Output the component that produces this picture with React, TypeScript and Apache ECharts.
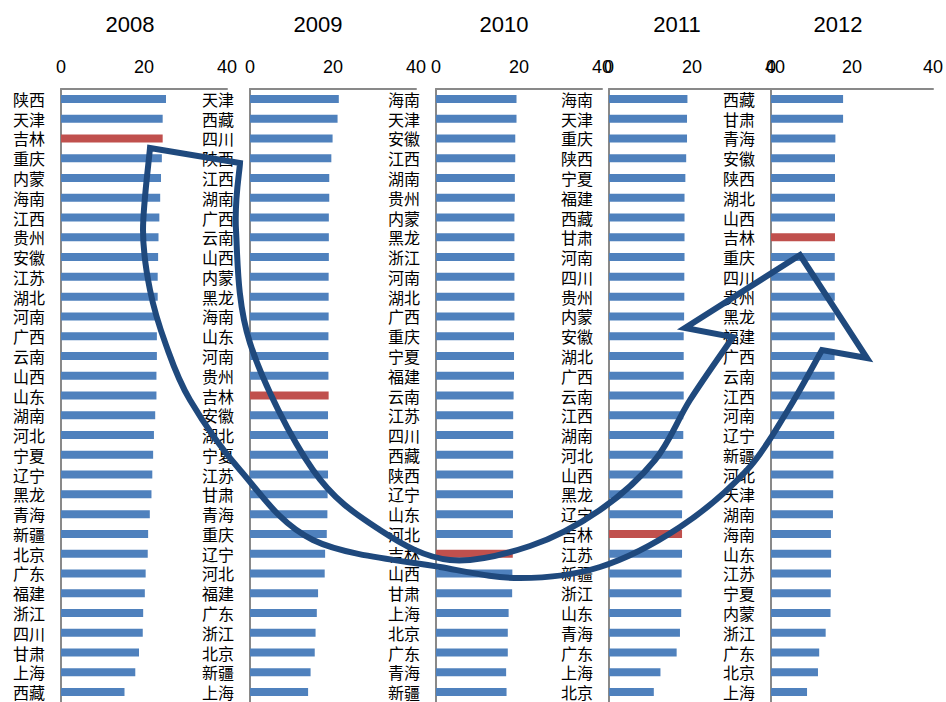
import React, { useEffect, useRef } from 'react';
import * as echarts from 'echarts';

const years = ['2008', '2009', '2010', '2011', '2012'];

const cats2008 = ['陕西','天津','吉林','重庆','内蒙','海南','江西','贵州','安徽','江苏','湖北','河南','广西','云南','山西','山东','湖南','河北','宁夏','辽宁','黑龙','青海','新疆','北京','广东','福建','浙江','四川','甘肃','上海','西藏'];
const vals2008 = [25.3,24.5,24.5,24.3,24.1,23.9,23.7,23.5,23.4,23.3,23.3,23.2,23.1,23.1,23.0,23.0,22.7,22.4,22.2,22.0,21.8,21.4,21.0,20.9,20.4,20.2,19.8,19.7,18.8,17.9,15.3];

const cats2009 = ['天津','西藏','四川','陕西','江西','湖南','广西','云南','山西','内蒙','黑龙','海南','山东','河南','贵州','吉林','安徽','湖北','宁夏','江苏','甘肃','青海','重庆','辽宁','河北','福建','广东','浙江','北京','新疆','上海'];
const vals2009 = [21.4,21.1,19.9,19.6,19.1,19.1,19.0,19.0,19.0,18.95,18.95,18.95,18.9,18.9,18.9,18.95,18.8,18.8,18.8,18.8,18.7,18.65,18.5,18.1,18.0,16.4,16.1,15.8,15.6,14.6,14.0];

const cats2010 = ['海南','天津','安徽','江西','湖南','贵州','内蒙','黑龙','浙江','河南','湖北','广西','重庆','宁夏','福建','云南','江苏','四川','西藏','陕西','辽宁','山东','河北','吉林','山西','甘肃','上海','北京','广东','青海','新疆'];
const vals2010 = [19.4,19.4,19.1,19.1,19.0,19.0,18.9,18.9,18.9,18.9,18.9,18.9,18.8,18.8,18.8,18.7,18.6,18.6,18.6,18.6,18.55,18.55,18.5,18.5,18.4,18.35,17.5,17.3,17.3,16.9,17.0];

const cats2011 = ['海南','天津','重庆','陕西','宁夏','福建','西藏','甘肃','河南','四川','贵州','内蒙','安徽','湖北','广西','云南','江西','湖南','河北','山西','黑龙','辽宁','吉林','江苏','新疆','浙江','山东','青海','广东','上海','北京'];
const vals2011 = [18.9,18.8,18.8,18.6,18.4,18.2,18.2,18.2,18.2,18.15,18.15,18.1,18.0,18.0,18.0,18.0,17.9,17.9,17.75,17.7,17.7,17.6,17.6,17.6,17.5,17.5,17.4,17.1,16.3,12.4,10.8];

const cats2012 = ['西藏','甘肃','青海','安徽','陕西','湖北','山西','吉林','重庆','四川','贵州','黑龙','福建','广西','云南','江西','河南','辽宁','新疆','河北','天津','湖南','海南','山东','江苏','宁夏','内蒙','浙江','广东','北京','上海'];
const vals2012 = [17.8,17.8,15.9,15.8,15.8,15.8,15.8,15.8,15.75,15.75,15.75,15.75,15.75,15.7,15.7,15.7,15.6,15.6,15.4,15.4,15.35,15.3,14.8,14.85,14.8,14.75,14.7,13.5,11.9,11.6,8.9];

const xMin = 0;
const xMax = 40;
const xInterval = 20;
const highlight = '吉林';

const allCats = [cats2008, cats2009, cats2010, cats2011, cats2012];
const allVals = [vals2008, vals2009, vals2010, vals2011, vals2012];

// layout
const panelLeft = [61, 250, 436, 609, 771];
const panelWidth = 166;
const gridTop = 89;
const gridHeight = 613;
const titleX = [130, 318, 504, 677, 838];

const BLUE = '#4F81BD';
const RED = '#C0504D';
const AXIS = '#898989';

function catmull(pts: number[][]): string {
  let d = '';
  for (let i = 0; i < pts.length - 1; i++) {
    const p0 = pts[i - 1] || pts[i];
    const p1 = pts[i];
    const p2 = pts[i + 1];
    const p3 = pts[i + 2] || p2;
    const c1x = p1[0] + (p2[0] - p0[0]) / 6;
    const c1y = p1[1] + (p2[1] - p0[1]) / 6;
    const c2x = p2[0] - (p3[0] - p1[0]) / 6;
    const c2y = p2[1] - (p3[1] - p1[1]) / 6;
    d += ` C ${c1x} ${c1y} ${c2x} ${c2y} ${p2[0]} ${p2[1]}`;
  }
  return d;
}

const innerEdge = [[240,163],[236,230],[250,343],[313,470],[380,530],[450,560],[530,546],[600,510],[655,460],[690,400],[733,337]];
const outerEdge = [[822,350],[788,410],[747,470],[680,527],[600,567],[520,578],[440,567],[313,540],[240,470],[190,400],[166,345],[150,290],[143,230],[150,148]];
const arrowD =
  'M 150 148 L 240 163' +
  catmull(innerEdge) +
  ' L 685 328 L 800 255 L 867 358 L 822 350' +
  catmull(outerEdge) +
  ' Z';

echarts.graphic.registerShape('curvedArrow', echarts.graphic.extendPath(arrowD, {}));

export default function App() {
  const ref = useRef<HTMLDivElement>(null);
  useEffect(() => {
    document.body.style.margin = '0';
    if (!ref.current) return;
    const chart = echarts.init(ref.current, null, { renderer: 'svg' });
    const grids = panelLeft.map((l) => ({ left: l, top: gridTop, width: panelWidth, height: gridHeight }));
    const xAxes = panelLeft.map((_, i) => ({
      type: 'value',
      gridIndex: i,
      position: 'top',
      min: xMin,
      max: xMax,
      interval: xInterval,
      splitLine: { show: false },
      axisTick: { show: false },
      axisLine: { show: true, lineStyle: { color: AXIS, width: 2 } },
      axisLabel: { margin: 13, fontSize: 18, color: '#000', fontFamily: 'Liberation Sans, Arial, sans-serif' },
    }));
    const yAxes = allCats.map((c, i) => ({
      type: 'category',
      gridIndex: i,
      inverse: true,
      data: c,
      axisTick: { show: false },
      axisLine: { show: true, lineStyle: { color: AXIS, width: 2 } },
      axisLabel: { margin: 16, fontSize: 16, lineHeight: 16, color: '#000', fontFamily: 'Noto Sans CJK SC', interval: 0 },
    }));
    const series = allVals.map((vals, i) => ({
      type: 'bar',
      xAxisIndex: i,
      yAxisIndex: i,
      barWidth: 8,
      data: vals.map((v, j) => ({ value: v, itemStyle: { color: allCats[i][j] === highlight ? RED : BLUE } })),
    }));
    const titles = years.map((y, i) => ({
      text: y,
      left: titleX[i],
      top: 13,
      textAlign: 'center',
      padding: 0,
      textStyle: { fontSize: 22, fontWeight: 'normal', color: '#000', fontFamily: 'Liberation Sans, Arial, sans-serif' },
    }));
    chart.setOption({
      animation: false,
      backgroundColor: '#fff',
      title: titles,
      grid: grids,
      xAxis: xAxes,
      yAxis: yAxes,
      series,
      graphic: [
        {
          type: 'curvedArrow',
          x: 0,
          y: 0,
          z: 100,
          silent: true,
          style: { fill: 'none', stroke: '#1F497D', lineWidth: 6, lineJoin: 'miter' },
        },
      ],
    });
    return () => chart.dispose();
  }, []);
  return <div ref={ref} style={{ width: 946, height: 702 }} />;
}
